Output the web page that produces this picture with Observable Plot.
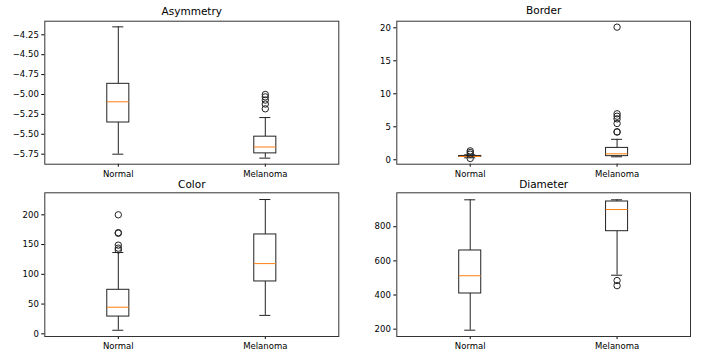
<!DOCTYPE html>
<html>
<head>
<meta charset="utf-8">
<script src="https://cdn.jsdelivr.net/npm/d3@7"></script>
<script src="https://cdn.jsdelivr.net/npm/@observablehq/plot@0.6"></script>
<style>
  html, body { margin: 0; padding: 0; background: #fff; }
  #wrap { position: relative; width: 703px; height: 364px; overflow: hidden; background: #fff; }
  #wrap > div { position: absolute; }
  #wrap svg { overflow: visible; }
</style>
</head>
<body>
<div id="wrap"></div>
<script>
const groups = ["Normal", "Melanoma"];
const features = ["Asymmetry", "Border", "Color", "Diameter"];

// per feature: [Normal, Melanoma]
const whiskerLo = [[-5.75, -5.80], [0.30, 0.45], [6, 31], [194, 516]];
const q1        = [[-5.352, -5.74], [0.42, 0.55], [29, 88], [409, 774]];
const median    = [[-5.092, -5.66], [0.50, 0.90], [44.7, 118], [513, 901]];
const q3        = [[-4.866, -5.53], [0.58, 1.80], [74, 167], [661, 948]];
const whiskerHi = [[-4.15, -5.29], [0.75, 3.10], [136.6, 225.7], [958, 958]];
const outliers  = [
  [[], [-5.00, -5.03, -5.07, -5.12, -5.18]],
  [[1.35, 1.10, 0.85, 0.20], [20.1, 6.97, 6.6, 6.2, 5.5, 4.25, 4.2]],
  [[200, 170, 169, 149, 144, 141], []],
  [[], [485, 455]]
];

const yDomains = [[-5.876, -4.079], [-0.67, 21.0], [-4.5, 237], [157, 999]];
const yTicks = [
  [-5.75, -5.5, -5.25, -5.0, -4.75, -4.5, -4.25],
  [0, 5, 10, 15, 20],
  [0, 50, 100, 150, 200],
  [200, 400, 600, 800]
];
const yFormats = [d3.format(".2f"), d3.format("d"), d3.format("d"), d3.format("d")];

const layout = [
  {left: 0,   top: 0,   width: 351, height: 176, ml: 44.3, mr: 12.7, mt: 20.7, mb: 12.3, dy: -10},
  {left: 351, top: 0,   width: 352, height: 176, ml: 45.3, mr: 13,   mt: 20.7, mb: 12.3, dy: -10.2},
  {left: 0,   top: 176, width: 351, height: 188, ml: 44.3, mr: 12.7, mt: 16.3, mb: 28,   dy: -8.3},
  {left: 351, top: 176, width: 352, height: 188, ml: 45.3, mr: 13,   mt: 16.3, mb: 28,   dy: -8.3}
];

const ink = "#222";
const half = 0.075, cap = 0.0375;

features.forEach((name, i) => {
  const L = layout[i];
  const g = groups.map((gname, j) => ({
    pos: j + 1, lo: whiskerLo[i][j], q1: q1[i][j], med: median[i][j], q3: q3[i][j], hi: whiskerHi[i][j]
  }));
  const out = groups.flatMap((gname, j) => outliers[i][j].map(v => ({pos: j + 1, v})));
  const chart = Plot.plot({
    width: L.width, height: L.height,
    marginLeft: L.ml, marginRight: L.mr, marginTop: L.mt, marginBottom: L.mb,
    style: {fontFamily: "DejaVu Sans", fontSize: "8.5px", color: "#000", background: "transparent"},
    x: {type: "linear", domain: [0.5, 2.5]},
    y: {domain: yDomains[i]},
    marks: [
      Plot.ruleX(g, {x: "pos", y1: "lo", y2: "q1", stroke: ink, strokeWidth: 1}),
      Plot.ruleX(g, {x: "pos", y1: "q3", y2: "hi", stroke: ink, strokeWidth: 1}),
      Plot.ruleY(g, {y: "lo", x1: d => d.pos - cap, x2: d => d.pos + cap, stroke: ink}),
      Plot.ruleY(g, {y: "hi", x1: d => d.pos - cap, x2: d => d.pos + cap, stroke: ink}),
      Plot.rect(g, {x1: d => d.pos - half, x2: d => d.pos + half, y1: "q1", y2: "q3", fill: "white", stroke: ink, strokeWidth: 1}),
      Plot.ruleY(g, {y: "med", x1: d => d.pos - half, x2: d => d.pos + half, stroke: "#ff7f0e", strokeWidth: 1}),
      Plot.dot(out, {x: "pos", y: "v", r: 3.2, stroke: ink, fill: "none", strokeWidth: 1}),
      Plot.axisX([1, 2], {tickFormat: d => groups[d - 1], tickSize: 3, tickPadding: 3.5, label: null, stroke: "#000", fill: "#000"}),
      Plot.axisY(yTicks[i], {tickFormat: yFormats[i], tickSize: 3, tickPadding: 3, label: null, stroke: "#000", fill: "#000"}),
      Plot.frame({stroke: "#333", strokeWidth: 1}),
      Plot.text([name], {text: d => d, frameAnchor: "top", lineAnchor: "middle", dy: L.dy, fontSize: 10.5, fill: "#000", textAnchor: "middle"})
    ]
  });
  const holder = document.createElement("div");
  holder.style.left = L.left + "px";
  holder.style.top = L.top + "px";
  holder.appendChild(chart);
  document.getElementById("wrap").appendChild(holder);
});
</script>
</body>
</html>
